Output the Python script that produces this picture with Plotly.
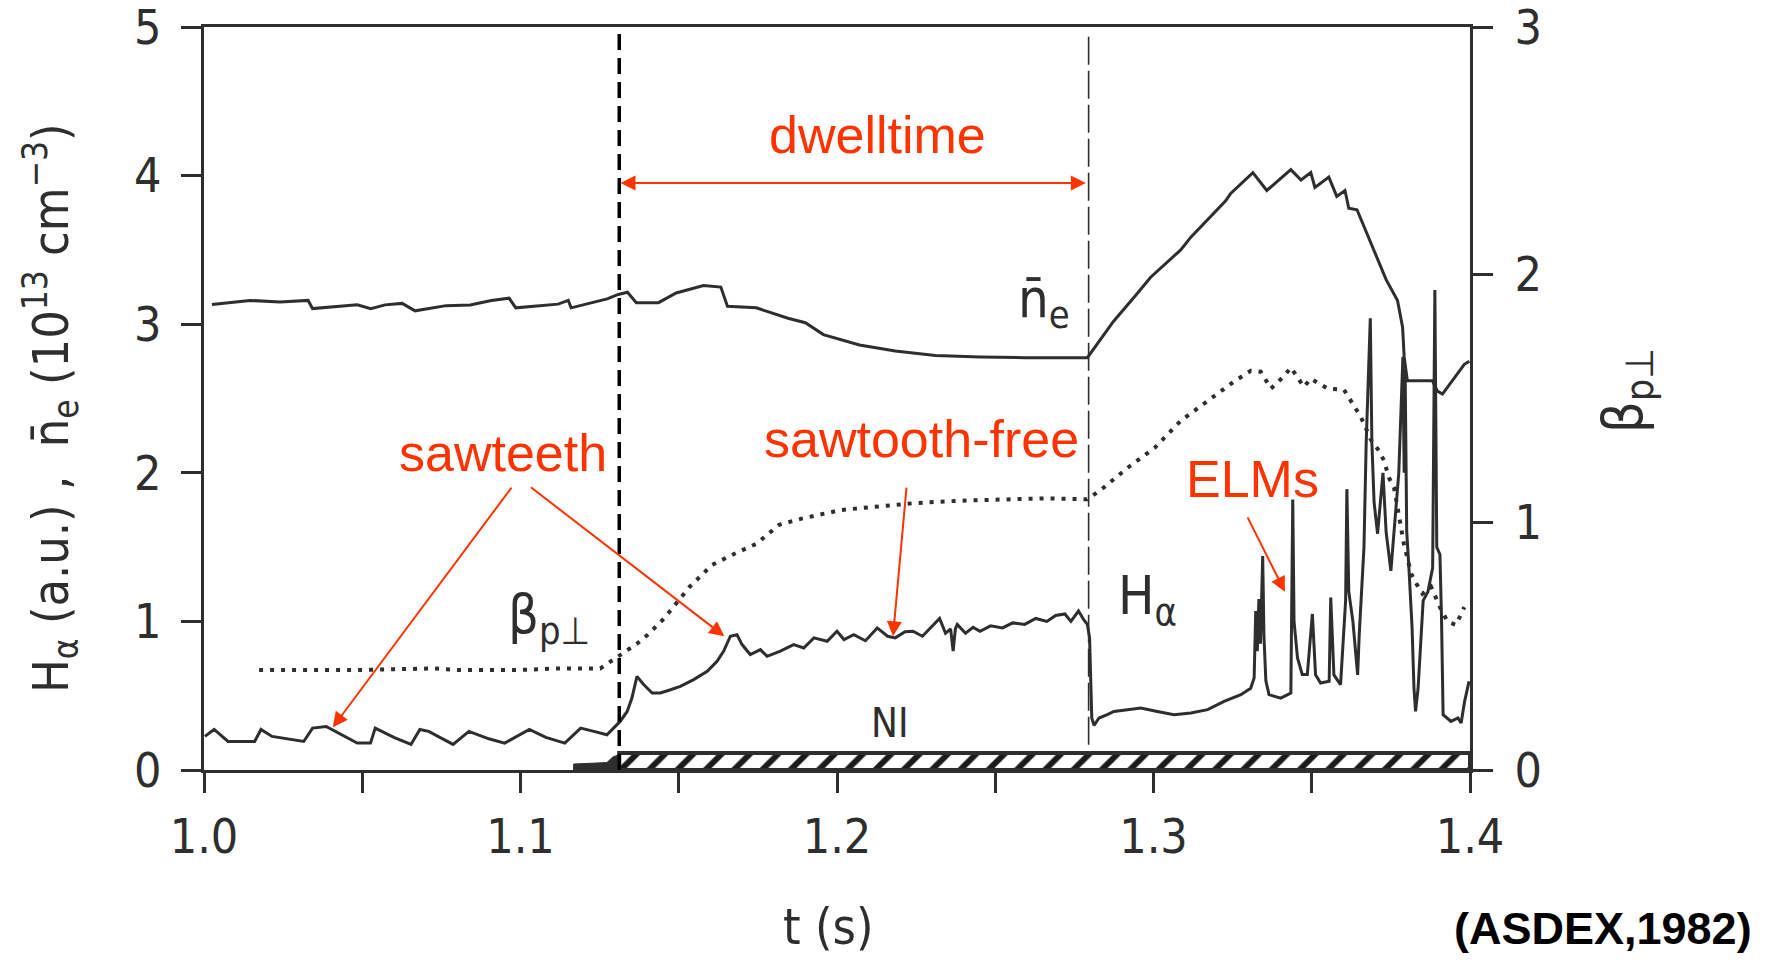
import plotly.graph_objects as go

# ---------------- data ----------------
t_ne = [1.0025, 1.0145, 1.024, 1.0329, 1.0343, 1.043, 1.0484, 1.0527, 1.0572, 1.0626,
        1.0667, 1.0765, 1.0841, 1.0908, 1.0964, 1.0985, 1.1062, 1.1119, 1.1151, 1.116,
        1.1274, 1.1309, 1.1338, 1.1366, 1.1436, 1.1492, 1.1578, 1.1633, 1.1654, 1.1745,
        1.1845, 1.19, 1.1957, 1.2071, 1.2184, 1.2311, 1.2452, 1.2593, 1.2791, 1.2874,
        1.2946, 1.2991, 1.3086, 1.3118, 1.3228, 1.3244, 1.3314, 1.3358, 1.3434, 1.3466,
        1.3497, 1.351, 1.3554, 1.3579, 1.3605, 1.3617, 1.3643, 1.3687, 1.3735, 1.3771,
        1.3787, 1.3792, 1.3802, 1.3881, 1.3897, 1.3913, 1.394, 1.3982, 1.3998]
ne = [3.132, 3.16, 3.15, 3.16, 3.105, 3.12, 3.13, 3.105, 3.13, 3.14,
      3.09, 3.125, 3.13, 3.16, 3.175, 3.11, 3.125, 3.135, 3.16, 3.11,
      3.17, 3.20, 3.215, 3.145, 3.145, 3.21, 3.26, 3.25, 3.12, 3.11,
      3.04, 3.01, 2.93, 2.86, 2.82, 2.79, 2.78, 2.775, 2.775, 3.02,
      3.20, 3.316, 3.50, 3.586, 3.83, 3.88, 4.02, 3.90, 4.04, 3.97,
      4.02, 3.92, 3.99, 3.86, 3.90, 3.78, 3.77, 3.55, 3.30, 3.16,
      2.98, 2.78, 2.62, 2.62, 2.55, 2.53, 2.61, 2.73, 2.75]

t_ha = [1.0003, 1.0032, 1.0076, 1.016, 1.018, 1.0215, 1.0315, 1.0343, 1.0386, 1.0484,
        1.0526, 1.0541, 1.06, 1.0654, 1.0682, 1.071, 1.0787, 1.0837, 1.09, 1.095,
        1.1028, 1.108, 1.114, 1.119, 1.1232, 1.1273, 1.1294, 1.1315, 1.1337, 1.1352,
        1.1368, 1.1389, 1.1416, 1.1442, 1.1474, 1.1505, 1.1547, 1.159, 1.1621, 1.1642,
        1.1663, 1.1684, 1.17, 1.1726, 1.1758, 1.1779, 1.1821, 1.1863, 1.1895, 1.1927,
        1.1969, 1.2, 1.2022, 1.2053, 1.209, 1.2127, 1.216, 1.2184, 1.2215, 1.224,
        1.227, 1.2296, 1.2324, 1.2343, 1.2359, 1.2367, 1.2374, 1.238, 1.2406, 1.243,
        1.2452, 1.2485, 1.2523, 1.2555, 1.2593, 1.2628, 1.2663, 1.2691, 1.272, 1.2739,
        1.2763, 1.278, 1.2791, 1.2798, 1.2801, 1.2805, 1.2812, 1.2828, 1.2854, 1.2875,
        1.2918, 1.296, 1.3012, 1.3065, 1.3118, 1.3171, 1.3223, 1.3276, 1.3307, 1.3318,
        1.3323, 1.3328, 1.3333, 1.3338, 1.3345, 1.3349, 1.3355, 1.3365, 1.3402, 1.3434,
        1.344, 1.3444, 1.3455, 1.347, 1.3486, 1.3502, 1.3512, 1.3528, 1.3555, 1.356,
        1.357, 1.3591, 1.3607, 1.3611, 1.3617, 1.363, 1.3645, 1.365, 1.3665, 1.3672,
        1.3685, 1.369, 1.3697, 1.3708, 1.3725, 1.3735, 1.375, 1.3761, 1.3775, 1.3788,
        1.3792, 1.3795, 1.38, 1.3807, 1.3817, 1.3823, 1.3828, 1.3836, 1.3842, 1.3852,
        1.3867, 1.3882, 1.3889, 1.3895, 1.3905, 1.391, 1.3915, 1.394, 1.3962, 1.3972,
        1.3983, 1.3997]
ha = [0.226, 0.273, 0.192, 0.192, 0.273, 0.226, 0.192, 0.282, 0.293, 0.181,
      0.181, 0.282, 0.22, 0.172, 0.273, 0.26, 0.172, 0.26, 0.21, 0.181,
      0.273, 0.22, 0.181, 0.282, 0.26, 0.237, 0.282, 0.327, 0.394, 0.484,
      0.63, 0.575, 0.518, 0.518, 0.54, 0.563, 0.608, 0.664, 0.732, 0.80,
      0.90, 0.911, 0.844, 0.777, 0.81, 0.765, 0.80, 0.844, 0.821, 0.889,
      0.866, 0.934, 0.878, 0.911, 0.87, 0.956, 0.90, 0.889, 0.93, 0.934,
      0.90, 0.96, 1.02, 0.92, 0.95, 0.80, 0.95, 0.98, 0.92, 0.96,
      0.934, 0.97, 0.956, 0.99, 0.98, 1.02, 1.00, 1.04, 1.05, 1.00,
      1.07, 1.01, 0.98, 0.89, 0.55, 0.35, 0.30, 0.35, 0.372, 0.394,
      0.406, 0.417, 0.394, 0.372, 0.383, 0.406, 0.462, 0.507, 0.55, 0.62,
      1.07, 0.80, 1.15, 0.85, 1.44, 0.90, 0.60, 0.507, 0.484, 0.518,
      1.82, 1.00, 0.754, 0.642, 0.642, 1.05, 0.64, 0.585, 0.597, 1.16,
      0.64, 0.575, 1.14, 1.89, 1.20, 1.00, 0.64, 0.91, 1.50, 2.20,
      3.04, 2.20, 1.80, 1.59, 2.00, 1.60, 1.34, 1.63, 2.00, 2.78,
      2.00, 2.70, 1.61, 1.36, 0.956, 0.55, 0.395, 0.55, 0.754, 1.14,
      1.20, 1.36, 3.23, 1.50, 1.45, 1.02, 0.372, 0.327, 0.35, 0.316,
      0.462, 0.597]

t_beta = [1.0174, 1.035, 1.05, 1.0725, 1.08, 1.1, 1.112, 1.1252, 1.1284, 1.131,
          1.1337, 1.1368, 1.14, 1.1432, 1.1453, 1.1534, 1.1605, 1.1676, 1.1746, 1.1817,
          1.1888, 1.2014, 1.2127, 1.224, 1.2381, 1.2523, 1.2663, 1.279, 1.2833, 1.2918,
          1.3003, 1.3086, 1.318, 1.3254, 1.3307, 1.3339, 1.3371, 1.3412, 1.3434, 1.3475,
          1.3497, 1.355, 1.3602, 1.3633, 1.3655, 1.3687, 1.3712, 1.3728, 1.3744, 1.376,
          1.3791, 1.3814, 1.383, 1.385, 1.3877, 1.3909, 1.393, 1.3956, 1.3972, 1.3982]
beta = [0.404, 0.404, 0.404, 0.41, 0.404, 0.404, 0.41, 0.41, 0.437, 0.457,
        0.484, 0.51, 0.544, 0.584, 0.611, 0.739, 0.828, 0.873, 0.914, 0.99,
        1.015, 1.05, 1.063, 1.077, 1.087, 1.093, 1.097, 1.093, 1.13, 1.22,
        1.30, 1.41, 1.50, 1.568, 1.612, 1.608, 1.54, 1.59, 1.625, 1.547,
        1.58, 1.54, 1.535, 1.467, 1.426, 1.333, 1.29, 1.25, 1.18, 1.14,
        0.914, 0.793, 0.753, 0.712, 0.74, 0.646, 0.598, 0.586, 0.626, 0.658]

# neutral injection (NI) timing
t_ni_ramp = [1.1168, 1.1168, 1.1273, 1.1293, 1.131, 1.131]
ni_ramp = [0.0, 0.04, 0.05, 0.09, 0.10, 0.0]
ni_start, ni_end, ni_level = 1.1312, 1.4, 0.115

# event times
t_heating = 1.1312   # start of NI
t_lh = 1.2795        # L-H transition
dwell_level = 3.95

x_ticks = [1.0, 1.05, 1.1, 1.15, 1.2, 1.25, 1.3, 1.35, 1.4]
x_ticktext = ["1.0", "", "1.1", "", "1.2", "", "1.3", "", "1.4"]
yl_ticks = [0, 1, 2, 3, 4, 5]
yr_ticks = [0, 1, 2, 3]

# ---------------- figure ----------------
INK = "#2e2e2e"
RED = "#FF3300"
NARROW = "Liberation Sans Narrow, DejaVu Sans Condensed, sans-serif"
ARIAL = "Liberation Sans, Arial, sans-serif"

fig = go.Figure()

fig.add_trace(go.Bar(x=[(ni_start + ni_end) / 2], y=[ni_level], base=0,
                     width=[ni_end - ni_start],
                     marker=dict(color="white",
                                 line=dict(color=INK, width=4),
                                 pattern=dict(shape="/", fgcolor="#1a1a1a", bgcolor="white",
                                              size=20, solidity=0.3, fgopacity=1)),
                     showlegend=False, hoverinfo="skip"))
fig.add_trace(go.Scatter(x=t_ni_ramp, y=ni_ramp, fill="toself", fillcolor=INK,
                         line=dict(color=INK, width=1), mode="lines",
                         showlegend=False, hoverinfo="skip"))
fig.add_trace(go.Scatter(x=t_ne, y=ne, mode="lines",
                         line=dict(color=INK, width=3), showlegend=False))
fig.add_trace(go.Scatter(x=t_ha, y=ha, mode="lines",
                         line=dict(color=INK, width=3), showlegend=False))
fig.add_trace(go.Scatter(x=t_beta, y=beta, mode="lines", yaxis="y2",
                         line=dict(color=INK, width=4, dash="4px,7px"),
                         showlegend=False))

# vertical dashed lines
fig.add_shape(type="line", xref="x", yref="y", x0=t_heating, x1=t_heating, y0=0, y1=5,
              line=dict(color="black", width=3.5, dash="16px,8px"))
fig.add_shape(type="line", xref="x", yref="y", x0=t_lh, x1=t_lh, y0=0.17, y1=4.96,
              line=dict(color=INK, width=1.6, dash="28px,6px"))

ann = []
# in-plot labels (black)
ann.append(dict(x=1.2655, y=3.15, xref="x", yref="y", text="n̄<sub>e</sub>",
                showarrow=False, font=dict(family=NARROW, size=54, color=INK)))
ann.append(dict(x=1.2981, y=1.15, xref="x", yref="y", text="H<sub>α</sub>",
                showarrow=False, font=dict(family=NARROW, size=54, color=INK)))
ann.append(dict(x=1.1091, y=1.02, xref="x", yref="y", text="β<sub>p⊥</sub>",
                showarrow=False, font=dict(family=NARROW, size=54, color=INK)))
ann.append(dict(x=1.2169, y=0.315, xref="x", yref="y", text="NI",
                showarrow=False, font=dict(family=NARROW, size=40, color=INK)))

# red labels
for txt, tx, ty in [("dwelltime", 1.2127, 4.27), ("sawteeth", 1.0946, 2.13),
                    ("sawtooth-free", 1.2267, 2.23), ("ELMs", 1.3314, 1.96)]:
    ann.append(dict(x=tx, y=ty, xref="x", yref="y", text=txt, showarrow=False,
                    font=dict(family=ARIAL, size=52, color=RED)))

# red arrows (tip x,y ; tail ax,ay)
arrows = [(1.0407, 0.287, 1.0975, 1.91, "end"),
          (1.1644, 0.90, 1.1028, 1.91, "end"),
          (1.2177, 0.90, 1.2220, 1.91, "end"),
          (1.3415, 1.20, 1.3295, 1.71, "end"),
          (1.1316, dwell_level, 1.2791, dwell_level, "end+start")]
for x, y, ax, ay, side in arrows:
    ann.append(dict(x=x, y=y, ax=ax, ay=ay, xref="x", yref="y", axref="x", ayref="y",
                    text="", showarrow=True, arrowhead=2, startarrowhead=2,
                    arrowside=side, arrowsize=1.5, startarrowsize=1.5,
                    arrowwidth=2, arrowcolor=RED, standoff=0, startstandoff=0))

# axis titles
title_font = dict(family=NARROW, size=50, color=INK)
ann.append(dict(x=-0.121, y=0.487, xref="paper", yref="paper", textangle=-90,
                xanchor="center", yanchor="middle",
                text="H<sub>α</sub> (a.u.) ,  n̄<sub>e</sub> (10<sup>13</sup> cm<sup>−3</sup>)",
                showarrow=False, font=title_font))
ann.append(dict(x=1.1232, y=0.511, xref="paper", yref="paper", textangle=-90,
                xanchor="center", yanchor="middle",
                text="β<sub>p⊥</sub>", showarrow=False,
                font=dict(family=NARROW, size=56, color=INK)))
ann.append(dict(x=0.4929, y=-0.211, xref="paper", yref="paper", text="t (s)",
                xanchor="center", yanchor="middle",
                showarrow=False, font=title_font))
ann.append(dict(x=1.105, y=-0.2135, xref="paper", yref="paper", text="<b>(ASDEX,1982)</b>",
                xanchor="center", yanchor="middle",
                showarrow=False, font=dict(family=ARIAL, size=45, color="black")))

axis_common = dict(showgrid=False, zeroline=False, ticks="outside", ticklen=20,
                   tickwidth=3, tickcolor=INK, showline=True, linewidth=3,
                   linecolor=INK, ticklabeloverflow="allow", automargin=False,
                   tickfont=dict(family=NARROW, size=48, color=INK))

fig.update_layout(
    width=1777, height=960,
    margin=dict(l=204, r=307, t=27, b=190, pad=0, autoexpand=False),
    paper_bgcolor="white", plot_bgcolor="white",
    showlegend=False,
    xaxis=dict(range=[1.0, 1.4], tickvals=x_ticks, ticktext=x_ticktext, mirror=True,
               ticklabelstandoff=2, **axis_common),
    yaxis=dict(range=[0, 5], tickvals=yl_ticks, ticklabelstandoff=10, **axis_common),
    yaxis2=dict(range=[0, 3], tickvals=yr_ticks, overlaying="y", side="right",
                ticklabelstandoff=12, **axis_common),
    annotations=ann,
)

fig.write_html("out.html")
